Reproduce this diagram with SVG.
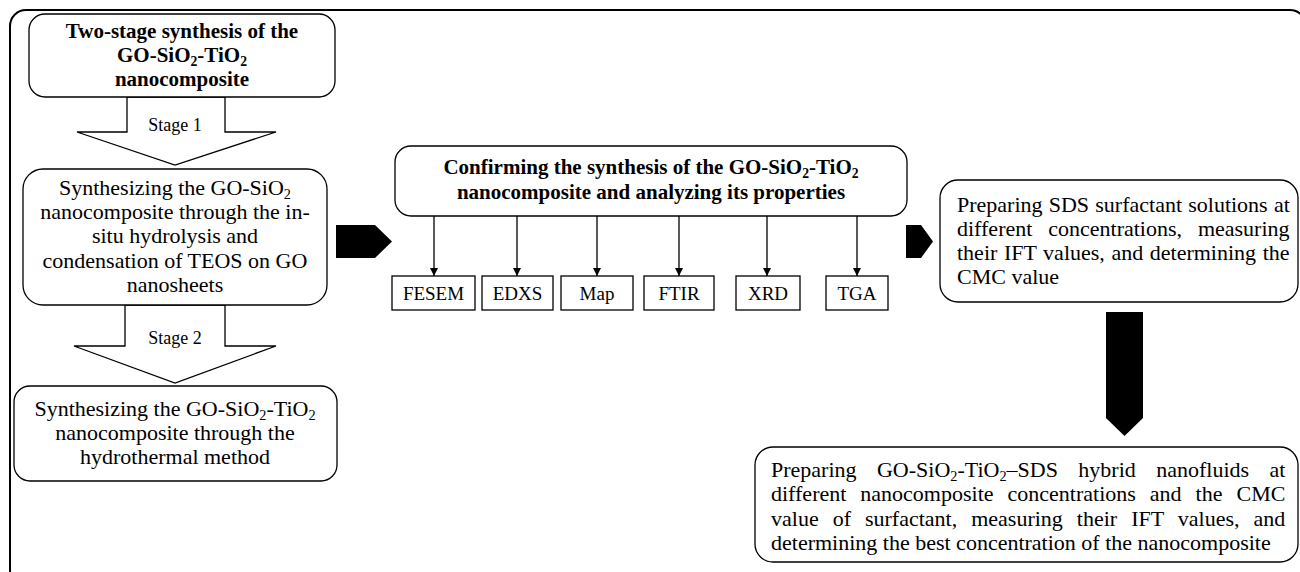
<svg xmlns="http://www.w3.org/2000/svg" width="1300" height="572" viewBox="0 0 1300 572">
<style>
text{font-family:"Liberation Serif","Times New Roman",serif;fill:#000}
.t{font-size:22px}
.b{font-size:21px;font-weight:bold}
.s{font-size:19px}
.st{font-size:18px}
.c{text-anchor:middle}
.e{text-anchor:end}
.box{fill:#fff;stroke:#000;stroke-width:1.3}
.hol{fill:#fff;stroke:#000;stroke-width:1.3}
.blk{fill:#000;stroke:none}
.ln{stroke:#000;stroke-width:1.3;fill:none}
.sub{font-size:0.65em}
</style>
<defs>
<marker id="ah" viewBox="0 0 10 10" refX="10" refY="5" markerWidth="8" markerHeight="9" markerUnits="userSpaceOnUse" orient="auto">
<path d="M0,0 L10,5 L0,10 z" fill="#000"/>
</marker>
</defs>
<rect x="10" y="10" width="1296" height="576" rx="16" fill="none" stroke="#000" stroke-width="2"/>

<g id="connectors">
<path class="hol" d="M127,97 L225,97 L225,132 L276,132 L175,165 L77,132 L127,132 Z"/>
<text class="st c" x="175" y="131">Stage 1</text>
<path class="hol" d="M125,305 L225,305 L225,346 L276,346 L175,383 L74,346 L125,346 Z"/>
<text class="st c" x="175" y="344">Stage 2</text>
<path class="blk" d="M336,225 L375,225 L392,241.5 L375,258 L336,258 Z"/>
<path class="blk" d="M906,225 L921,225 L933,241.5 L921,258 L906,258 Z"/>
<path class="blk" d="M1106,312 L1143,312 L1143,418 L1124.5,436 L1106,418 Z"/>
<line class="ln" x1="434" y1="216" x2="434" y2="276" marker-end="url(#ah)"/>
<line class="ln" x1="517" y1="216" x2="517" y2="276" marker-end="url(#ah)"/>
<line class="ln" x1="597" y1="216" x2="597" y2="276" marker-end="url(#ah)"/>
<line class="ln" x1="679" y1="216" x2="679" y2="276" marker-end="url(#ah)"/>
<line class="ln" x1="767" y1="216" x2="767" y2="276" marker-end="url(#ah)"/>
<line class="ln" x1="857" y1="216" x2="857" y2="276" marker-end="url(#ah)"/>
</g>

<g id="n-two-stage">
<rect class="box" x="29" y="14" width="306" height="83" rx="16"/>
<text class="b c" x="182" y="38">Two-stage synthesis of the</text>
<text class="b c" x="182" y="62">GO-SiO<tspan class="sub" dy="4">2</tspan><tspan dy="-4">-TiO</tspan><tspan class="sub" dy="4">2</tspan></text>
<text class="b c" x="182" y="86">nanocomposite</text>
</g>

<g id="n-stage1">
<rect class="box" x="23" y="169" width="304" height="136" rx="20"/>
<text class="t c" x="175" y="195">Synthesizing the GO-SiO<tspan class="sub" dy="4">2</tspan></text>
<text class="t c" x="175" y="219">nanocomposite through the in-</text>
<text class="t c" x="175" y="243">situ hydrolysis and</text>
<text class="t c" x="175" y="268">condensation of TEOS on GO</text>
<text class="t c" x="175" y="292">nanosheets</text>
</g>

<g id="n-stage2">
<rect class="box" x="14" y="386" width="323" height="95" rx="16"/>
<text class="t c" x="175" y="416">Synthesizing the GO-SiO<tspan class="sub" dy="4">2</tspan><tspan dy="-4">-TiO</tspan><tspan class="sub" dy="4">2</tspan></text>
<text class="t c" x="175" y="440">nanocomposite through the</text>
<text class="t c" x="175" y="464">hydrothermal method</text>
</g>

<g id="n-confirm">
<rect class="box" x="395" y="146" width="512" height="70" rx="16"/>
<text class="b c" x="651" y="174">Confirming the synthesis of the GO-SiO<tspan class="sub" dy="4">2</tspan><tspan dy="-4">-TiO</tspan><tspan class="sub" dy="4">2</tspan></text>
<text class="b c" x="651" y="199">nanocomposite and analyzing its properties</text>
</g>

<g id="n-fesem"><rect class="box" x="392" y="276" width="83" height="34"/><text class="s c" x="433.5" y="300">FESEM</text></g>
<g id="n-edxs"><rect class="box" x="482" y="276" width="71" height="34"/><text class="s c" x="517.5" y="300">EDXS</text></g>
<g id="n-map"><rect class="box" x="561" y="276" width="72" height="34"/><text class="s c" x="597" y="300">Map</text></g>
<g id="n-ftir"><rect class="box" x="644" y="276" width="70" height="34"/><text class="s c" x="679" y="300">FTIR</text></g>
<g id="n-xrd"><rect class="box" x="736" y="276" width="64" height="34"/><text class="s c" x="768" y="300">XRD</text></g>
<g id="n-tga"><rect class="box" x="826" y="276" width="62" height="34"/><text class="s c" x="857" y="300">TGA</text></g>

<g id="n-sds">
<rect class="box" x="940" y="180" width="358" height="122" rx="18"/>
<text class="t" x="957" y="212" word-spacing="0.7">Preparing SDS surfactant solutions at</text>
<text class="t" x="957" y="236" word-spacing="10.4">different concentrations, measuring</text>
<text class="t" x="957" y="260" word-spacing="1.1">their IFT values, and determining the</text>
<text class="t" x="957" y="284">CMC value</text>
</g>

<g id="n-hybrid">
<rect class="box" x="755" y="447" width="543" height="115" rx="18"/>
<text class="t" x="771" y="477" word-spacing="14.9">Preparing GO-SiO<tspan class="sub" dy="4">2</tspan><tspan dy="-4">-TiO</tspan><tspan class="sub" dy="4">2</tspan><tspan dy="-4">–SDS hybrid nanofluids at</tspan></text>
<text class="t" x="771" y="501" word-spacing="8.5">different nanocomposite concentrations and the CMC</text>
<text class="t" x="771" y="526" word-spacing="8.5">value of surfactant, measuring their IFT values, and</text>
<text class="t" x="771" y="550">determining the best concentration of the nanocomposite</text>
</g>
</svg>
